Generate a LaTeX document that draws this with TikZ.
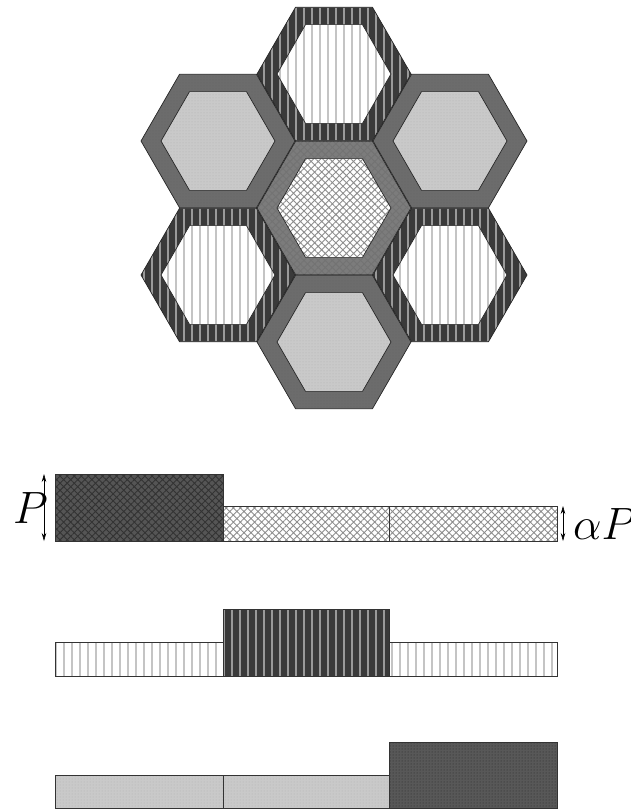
\documentclass[tikz,border=0pt]{standalone}
\usepackage{graphicx}
\usetikzlibrary{arrows.meta,positioning,shapes.geometric,patterns.meta}

\definecolor{rimdark}{HTML}{3A3A3A}
\definecolor{stripelight}{HTML}{9A9A9A}
\definecolor{stripefaint}{HTML}{C4C4C4}
\definecolor{rimgray}{HTML}{6C6C6C}
\definecolor{coregray}{HTML}{C9C9C9}
\definecolor{bargray}{HTML}{585858}
\definecolor{rimmesh}{HTML}{7C7C7C}
\definecolor{meshline}{HTML}{8E8E8E}
\definecolor{barmesh}{HTML}{555555}

\newcommand{\biglbl}[1]{\scalebox{1.82}{\Huge$#1$}}

\begin{document}
\begin{tikzpicture}[
  x=1pt,y=-1pt,
  >={Stealth[length=8pt,width=4.5pt]},
  node distance=0pt,
  cell/.style={shape=regular polygon,regular polygon sides=6,draw=black!85,
    line width=0.7pt,inner sep=0pt,outer sep=0pt},
  rim/.style={cell,minimum size=154pt},
  core/.style={cell,minimum size=114pt},
  % textures
  stripedark/.style={preaction={fill=rimdark},
    pattern={Lines[angle=90,distance=8pt,line width=1.1pt]},pattern color=stripelight},
  stripewhite/.style={preaction={fill=white},
    pattern={Lines[angle=90,distance=8pt,line width=1.3pt]},pattern color=stripefaint},
  dotgray/.style={preaction={fill=rimgray},
    pattern={Dots[distance=3pt,radius=0.5pt]},pattern color=black!60},
  dotdark/.style={preaction={fill=bargray},
    pattern={Dots[distance=3pt,radius=0.5pt]},pattern color=black!85},
  dotlight/.style={preaction={fill=coregray},
    pattern={Dots[distance=3pt,radius=0.5pt]},pattern color=black!30},
  meshgray/.style={preaction={fill=rimmesh},
    pattern={Hatch[angle=45,distance=5pt,line width=0.9pt]},pattern color=black!55},
  meshwhite/.style={preaction={fill=white},
    pattern={Hatch[angle=45,distance=5pt,line width=0.9pt]},pattern color=meshline},
  meshdark/.style={preaction={fill=barmesh},
    pattern={Hatch[angle=45,distance=5pt,line width=0.9pt]},pattern color=black!80},
  bar/.style={draw=black!80,line width=0.8pt,inner sep=0pt,outer sep=0pt,
    anchor=south west},
  dim/.style={<->,line width=0.6pt},
  lbl/.style={inner sep=0pt,anchor=base west}
]
  \useasboundingbox (0,0) rectangle (630,812);

  % honeycomb
  \node[rim,dotgray]     (tlrim) at (218,141) {};
  \node[core,dotlight]   (tlcore) at (218,141) {};
  \node[rim,dotgray]     (trrim) at (450,141) {};
  \node[core,dotlight]   (trcore) at (450,141) {};
  \node[rim,dotgray]     (btrim) at (334,342) {};
  \node[core,dotlight]   (btcore) at (334,342) {};
  \node[rim,stripedark]  (tprim) at (334,74) {};
  \node[core,stripewhite] (tpcore) at (334,74) {};
  \node[rim,stripedark]  (blrim) at (218,275) {};
  \node[core,stripewhite] (blcore) at (218,275) {};
  \node[rim,stripedark]  (brrim) at (450,275) {};
  \node[core,stripewhite] (brcore) at (450,275) {};
  \node[rim,meshgray]    (ctrim) at (334,208) {};
  \node[core,meshwhite]  (ctcore) at (334,208) {};

  % first profile
  \node[bar,meshdark,minimum width=168pt,minimum height=67pt] (onea) at (55,541) {};
  \node[bar,meshwhite,minimum width=166pt,minimum height=35pt,
    right=of onea.south east,anchor=south west] (oneb) {};
  \node[bar,meshwhite,minimum width=168pt,minimum height=35pt,
    right=of oneb.south east,anchor=south west] (onec) {};

  % second profile
  \node[bar,stripewhite,minimum width=168pt,minimum height=34pt] (twoa) at (55,676) {};
  \node[bar,stripedark,minimum width=166pt,minimum height=67pt,
    right=of twoa.south east,anchor=south west] (twob) {};
  \node[bar,stripewhite,minimum width=168pt,minimum height=34pt,
    right=of twob.south east,anchor=south west] (twoc) {};

  % third profile
  \node[bar,dotlight,minimum width=168pt,minimum height=33pt] (threea) at (55,808) {};
  \node[bar,dotlight,minimum width=166pt,minimum height=33pt,
    right=of threea.south east,anchor=south west] (threeb) {};
  \node[bar,dotdark,minimum width=168pt,minimum height=66pt,
    right=of threeb.south east,anchor=south west] (threec) {};

  \draw[dim] ([xshift=-11pt]onea.north west) -- ([xshift=-11pt]onea.south west);
  \draw[dim] ([xshift=6pt]onec.north east) -- ([xshift=6pt]onec.south east);

  \node[lbl] (plabel) at (13,523) {\biglbl{P}};
  \node[lbl] (aplabel) at (573,539) {\biglbl{\alpha P}};
\end{tikzpicture}
\end{document}
